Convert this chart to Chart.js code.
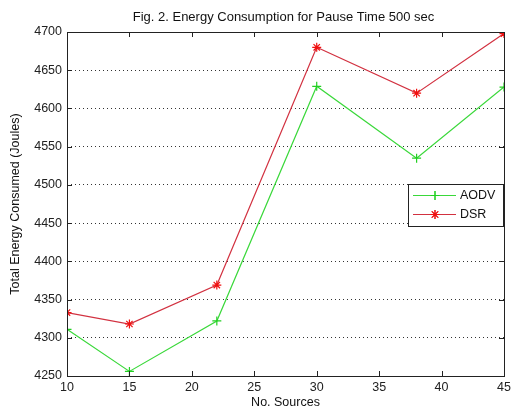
<!DOCTYPE html>
<html>
<head>
<meta charset="utf-8">
<script src="https://cdn.jsdelivr.net/npm/chart.js@4/dist/chart.umd.min.js"></script>
<style>
  html, body { margin: 0; padding: 0; background: #fff; }
  #wrap { width: 512px; height: 412px; }
</style>
</head>
<body>
<div id="wrap"><canvas id="c" width="512" height="412"></canvas></div>
<script>
// Number of sources on the x axis
const sources = [10, 15, 22, 30, 38, 45];
// Total energy consumed (Joules) per protocol
const aodvEnergy = [4311, 4256, 4322, 4629, 4535, 4628];
const dsrEnergy  = [4333, 4318, 4369, 4680, 4620, 4698];
// Axis ticks
const xTicks = [10, 15, 20, 25, 30, 35, 40, 45];
const yTicks = [4250, 4300, 4350, 4400, 4450, 4500, 4550, 4600, 4650, 4700];

const titleText = 'Fig. 2. Energy Consumption for Pause Time 500 sec';
const FONT = "'Liberation Sans', Arial, Helvetica, sans-serif";

const toPoints = vals => sources.map((s, i) => ({ x: s, y: vals[i] }));

// Frame, inward tick marks, heading and the boxed legend
const framePlugin = {
  id: 'frame',
  afterDatasetsDraw(chart) {
    const { ctx, chartArea: a, scales } = chart;
    ctx.save();
    ctx.strokeStyle = '#222';
    ctx.lineWidth = 1;
    const tl = 5;
    ctx.beginPath();
    xTicks.forEach(v => {
      const px = Math.round(scales.x.getPixelForValue(v)) + 0.5;
      ctx.moveTo(px, a.bottom); ctx.lineTo(px, a.bottom - tl);
      ctx.moveTo(px, a.top); ctx.lineTo(px, a.top + tl);
    });
    yTicks.forEach(v => {
      const py = Math.round(scales.y.getPixelForValue(v)) + 0.5;
      ctx.moveTo(a.left, py); ctx.lineTo(a.left + tl, py);
      ctx.moveTo(a.right, py); ctx.lineTo(a.right - tl, py);
    });
    ctx.stroke();
    ctx.strokeRect(Math.round(a.left) + 0.5, Math.round(a.top) + 0.5,
                   Math.round(a.right - a.left), Math.round(a.bottom - a.top));
    ctx.restore();
  },
  afterDraw(chart) {
    const { ctx, chartArea: a } = chart;
    ctx.save();
    // heading
    ctx.fillStyle = '#111';
    ctx.font = '13px ' + FONT;
    ctx.textAlign = 'center';
    ctx.textBaseline = 'middle';
    ctx.fillText(titleText, (a.left + a.right) / 2 - 2, 17);

    // legend
    const bx = 408.5, by = 184.5, bw = 95, bh = 42;
    ctx.fillStyle = '#fff';
    ctx.fillRect(bx, by, bw, bh);
    ctx.strokeStyle = '#222';
    ctx.lineWidth = 1;
    ctx.strokeRect(bx, by, bw, bh);
    const rows = [195, 214];
    chart.data.datasets.forEach((ds, i) => {
      const y = rows[i] + 0.5;
      ctx.strokeStyle = ds.borderColor;
      ctx.lineWidth = 1;
      ctx.beginPath();
      ctx.moveTo(413, y); ctx.lineTo(456, y);
      ctx.stroke();
      Chart.helpers.drawPoint(ctx, {
        pointStyle: ds.pointStyle, radius: ds.pointRadius,
        borderWidth: ds.pointBorderWidth, rotation: 0
      }, 435, y);
      ctx.strokeStyle = ds.pointBorderColor;
      ctx.lineWidth = ds.pointBorderWidth;
      ctx.stroke();
      ctx.fillStyle = '#111';
      ctx.textAlign = 'left';
      ctx.textBaseline = 'middle';
      ctx.font = '12.5px ' + FONT;
      ctx.fillText(ds.label, 460, y + 0.5);
    });
    ctx.restore();
  }
};

const plain = v => String(v);

new Chart(document.getElementById('c'), {
  type: 'line',
  data: {
    datasets: [
      {
        label: 'AODV',
        data: toPoints(aodvEnergy),
        borderColor: '#3ad83a',
        borderWidth: 1.2,
        pointStyle: 'cross',
        pointRadius: 4.5,
        pointBorderWidth: 1.2,
        pointBorderColor: '#22d022',
        pointBackgroundColor: '#22d022',
        tension: 0,
        fill: false
      },
      {
        label: 'DSR',
        data: toPoints(dsrEnergy),
        borderColor: '#d23140',
        borderWidth: 1.2,
        pointStyle: 'star',
        pointRadius: 4.5,
        pointBorderWidth: 1.2,
        pointBorderColor: '#f01010',
        pointBackgroundColor: '#f01010',
        tension: 0,
        fill: false
      }
    ]
  },
  options: {
    responsive: false,
    animation: false,
    devicePixelRatio: 1,
    layout: { padding: { left: 0, right: 8, top: 32, bottom: 0 } },
    plugins: {
      legend: { display: false },
      title: { display: false },
      tooltip: { enabled: false }
    },
    scales: {
      x: {
        type: 'linear',
        min: 10, max: 45,
        afterBuildTicks: s => { s.ticks = xTicks.map(v => ({ value: v })); },
        afterFit: s => { s.height = 36; s.paddingLeft = 0; s.paddingRight = 0; },
        grid: { display: false, drawTicks: false },
        border: { display: false },
        ticks: { color: '#222', font: { family: FONT, size: 12.5 }, padding: 4, maxRotation: 0, callback: plain },
        title: {
          display: true, text: 'No. Sources', color: '#111',
          font: { family: FONT, size: 12.5, lineHeight: 1.2 },
          padding: { top: 0, bottom: 1.5 }
        }
      },
      y: {
        min: 4250, max: 4700,
        afterBuildTicks: s => { s.ticks = yTicks.map(v => ({ value: v })); },
        afterFit: s => { s.width = 67; s.paddingTop = 0; s.paddingBottom = 0; },
        grid: {
          display: true, drawTicks: false, color: '#333', lineWidth: 1,
          drawOnChartArea: true
        },
        border: { display: false, dash: [1, 3] },
        ticks: { color: '#222', font: { family: FONT, size: 12.5 }, padding: 5, callback: plain },
        title: {
          display: true, text: 'Total Energy Consumed (Joules)', color: '#111',
          font: { family: FONT, size: 12.5, lineHeight: 1.2 },
          padding: { top: 8.5, bottom: 0 }
        }
      }
    }
  },
  plugins: [framePlugin]
});
</script>
</body>
</html>
